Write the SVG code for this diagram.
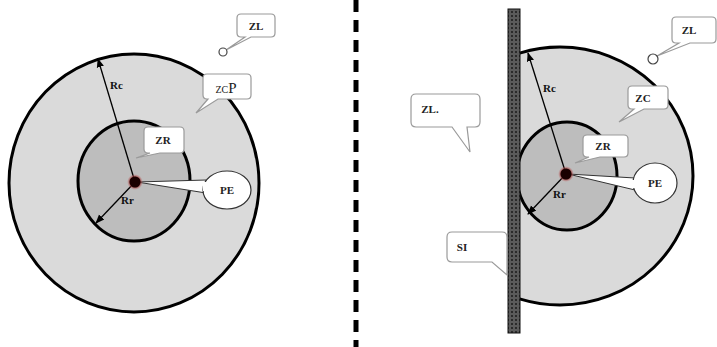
<svg xmlns="http://www.w3.org/2000/svg" width="717" height="347" viewBox="0 0 717 347">
<style>
.outer{fill:#dadada;stroke:#000;stroke-width:3}
.inner{fill:#bdbdbd;stroke:#000;stroke-width:3}
.call{fill:#fff;stroke:#9a9a9a;stroke-width:1.2}
.t{font-family:"Liberation Serif",serif;font-size:11px;font-weight:bold;fill:#222;text-anchor:middle}
.r{font-family:"Liberation Serif",serif;font-size:11px;font-weight:bold;fill:#111}
.ray{stroke:#000;stroke-width:1.3;fill:none}
.wedge{fill:#fff;stroke:#333;stroke-width:1}
.pe{fill:#fff;stroke:#333;stroke-width:1.2}
</style>
<defs>
<marker id="ah" viewBox="0 0 10 10" refX="9" refY="5" markerWidth="7" markerHeight="7" orient="auto">
<path d="M0,1 L10,5 L0,9 Z" fill="#000"/>
</marker>
<pattern id="hatch" width="4" height="4" patternUnits="userSpaceOnUse">
<rect width="4" height="4" fill="#2b2b2b"/>
<circle cx="2" cy="2" r="1.3" fill="none" stroke="#9a9a9a" stroke-width="0.7"/>
</pattern>
<clipPath id="rightOfWall"><rect x="520" y="0" width="200" height="347"/></clipPath>
<radialGradient id="glow"><stop offset="0.55" stop-color="#7a1010"/><stop offset="1" stop-color="#d07070" stop-opacity="0"/></radialGradient>
</defs>

<g id="separator">
<line x1="356" y1="0" x2="356" y2="347" stroke="#000" stroke-width="5" stroke-dasharray="12 8"/>
</g>

<!-- Left diagram -->
<g id="left-zc">
<ellipse class="outer" cx="134" cy="183" rx="125" ry="129"/>
</g>
<g id="left-zr">
<ellipse class="inner" cx="134" cy="181" rx="56" ry="60"/>
</g>

<!-- Right diagram -->
<g id="right-zc" clip-path="url(#rightOfWall)">
<ellipse class="outer" cx="560" cy="176" rx="133" ry="129"/>
</g>
<g id="right-zr" clip-path="url(#rightOfWall)">
<ellipse class="inner" cx="567" cy="176" rx="50" ry="54"/>
</g>
<g id="wall-si">
<rect x="508" y="9" width="12" height="324" fill="url(#hatch)" stroke="#111" stroke-width="1"/>
</g>

<g id="connectors">
<line class="ray" x1="135" y1="182" x2="98" y2="59" marker-end="url(#ah)"/>
<line class="ray" x1="135" y1="182" x2="96" y2="223" marker-end="url(#ah)"/>
<line class="ray" x1="566" y1="174" x2="528" y2="53" marker-end="url(#ah)"/>
<line class="ray" x1="566" y1="174" x2="528" y2="214" marker-end="url(#ah)"/>
</g>

<g id="labels-radii">
<text class="r" x="110" y="89">Rc</text>
<text class="r" x="121" y="204">Rr</text>
<text class="r" x="543" y="92">Rc</text>
<text class="r" x="553" y="198">Rr</text>
</g>

<!-- Left callouts -->
<g id="left-zl">
<path class="call" d="M241,14 H271 Q275,14 275,18 V33 Q275,37 271,37 H251 L226,50 L245,37 H241 Q237,37 237,33 V18 Q237,14 241,14 Z"/>
<circle cx="223" cy="52" r="4" fill="#fff" stroke="#444" stroke-width="1.2"/>
<text class="t" x="256" y="30" font-weight="normal">ZL</text>
</g>
<g id="left-zcp">
<path class="call" d="M207,74 H247 Q251,74 251,78 V95 Q251,99 247,99 H218 L196,113 L208,99 H207 Q203,99 203,95 V78 Q203,74 207,74 Z"/>
<text x="226" y="93" font-family="Liberation Serif,serif" fill="#222" text-anchor="middle"><tspan font-size="10">ZC</tspan><tspan font-size="15">P</tspan></text>
</g>
<g id="left-zr-label">
<path class="call" d="M148,127 H180 Q184,127 184,131 V149 Q184,153 180,153 H160 L136,158 L150,153 H148 Q144,153 144,149 V131 Q144,127 148,127 Z"/>
<text class="t" x="163" y="144" font-weight="normal">ZR</text>
</g>
<g id="left-pe">
<polygon class="wedge" points="137,182 206,180 206,193"/>
<ellipse class="pe" cx="227" cy="190" rx="24" ry="19"/>
<polygon points="203,182 207,182 207,191 203,191" fill="#fff"/>
<text class="t" x="227" y="194" font-weight="normal">PE</text>
</g>
<g id="left-dot">
<circle cx="135" cy="182" r="8" fill="url(#glow)"/>
<circle cx="135" cy="182" r="5.5" fill="#1a0000"/>
</g>

<!-- Right callouts -->
<g id="right-zl-top">
<path class="call" d="M676,17 H712 Q716,17 716,21 V39 Q716,43 712,43 H690 L657,56 L679,43 H676 Q672,43 672,39 V21 Q672,17 676,17 Z"/>
<circle cx="653" cy="59" r="5" fill="#fff" stroke="#444" stroke-width="1.2"/>
<text class="t" x="689" y="34">ZL</text>
</g>
<g id="right-zl-left">
<path class="call" d="M416,94 H475 Q480,94 480,99 V122 Q480,127 475,127 H467 L470,152 L452,127 H416 Q411,127 411,122 V99 Q411,94 416,94 Z"/>
<text class="t" x="430" y="113">ZL.</text>
</g>
<g id="right-zc-label">
<path class="call" d="M632,86 H664 Q668,86 668,90 V105 Q668,109 664,109 H644 L619,122 L634,109 H632 Q628,109 628,105 V90 Q628,86 632,86 Z"/>
<text class="t" x="643" y="102">ZC</text>
</g>
<g id="right-zr-label">
<path class="call" d="M587,135 H624 Q628,135 628,139 V153 Q628,157 624,157 H600 L575,163 L589,157 H587 Q583,157 583,153 V139 Q583,135 587,135 Z"/>
<text class="t" x="603" y="150">ZR</text>
</g>
<g id="right-pe">
<polygon class="wedge" points="568,174 635,178 635,190"/>
<ellipse class="pe" cx="655" cy="183" rx="22" ry="20"/>
<polygon points="632,180 636,180 636,188 632,188" fill="#fff"/>
<text class="t" x="655" y="187">PE</text>
</g>
<g id="right-si">
<path class="call" d="M452,232 H502 Q507,232 507,237 V255 L507,275 L492,262 H452 Q447,262 447,257 V237 Q447,232 452,232 Z"/>
<text class="t" x="462" y="251">SI</text>
</g>
<g id="right-dot">
<circle cx="566" cy="174" r="8" fill="url(#glow)"/>
<circle cx="566" cy="174" r="5.5" fill="#1a0000"/>
</g>
</svg>
